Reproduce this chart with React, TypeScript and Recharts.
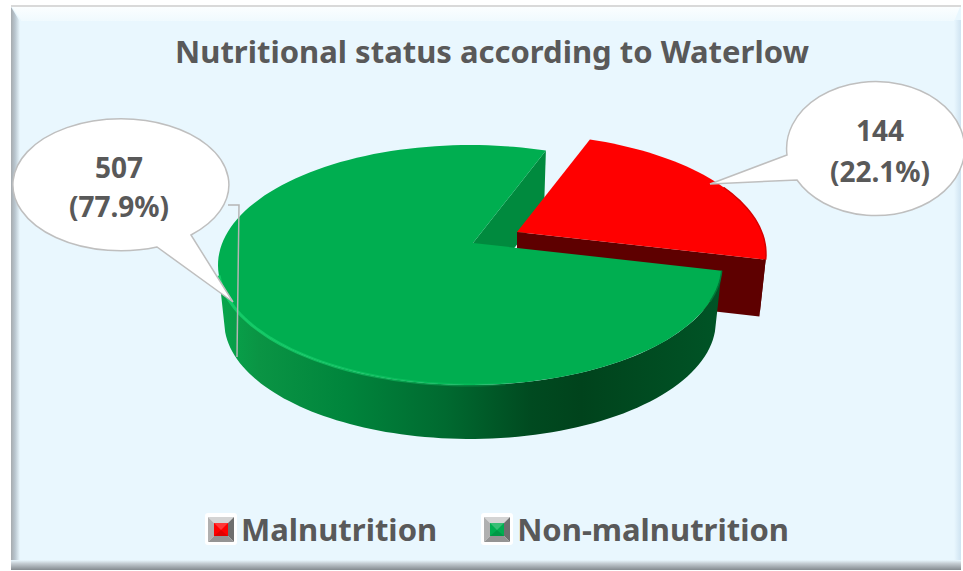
import { PieChart, Pie, Legend } from "recharts";

const labels = ["Malnutrition", "Non-malnutrition"];
const counts = [144, 507];
const colors = ["#ff0000", "#00ae50"];

const data = labels.map((name, i) => ({ name, value: counts[i], fill: colors[i] }));

const FONT = "'Noto Sans', sans-serif";
const TEXT = "#595959";
const SQUASH = 0.476; // pie seen from above: ry / rx
const DEPTH = 57;
const BOTTOM_SCALE = 0.975; // the underside looks a bit smaller
const APEX = { x: 3, y: -22 }; // tip of the wedges sits above the ellipse centre
const EXPLODE = 52;

// top = degrees clockwise from 12 o'clock, nudged for the perspective
const warp = (top: number) => top - 2.5 * (1 - Math.cos((2 * top * Math.PI) / 180));

function rim(cx: number, cy: number, r: number, top: number, low = false) {
  const a = (warp(top) * Math.PI) / 180;
  const s = low ? BOTTOM_SCALE : 1;
  return {
    x: cx + r * s * Math.sin(a),
    y: cy + (low ? DEPTH : 0) - r * SQUASH * s * Math.cos(a),
  };
}

function arc(cx: number, cy: number, r: number, from: number, to: number, low = false) {
  const pts = [];
  const steps = Math.max(2, Math.ceil(Math.abs(to - from) / 2));
  for (let i = 0; i <= steps; i++) {
    pts.push(rim(cx, cy, r, from + ((to - from) * i) / steps, low));
  }
  return pts;
}

const toPath = (pts: { x: number; y: number }[]) =>
  pts.map((p, i) => `${i ? "L" : "M"}${p.x.toFixed(1)} ${p.y.toFixed(1)}`).join(" ");

function geometry(props: any) {
  const { cx, cy, outerRadius: r, startAngle, endAngle, midAngle, index } = props;
  const m = ((midAngle ?? (startAngle + endAngle) / 2) * Math.PI) / 180;
  const ox = cx + (index === 0 ? EXPLODE * Math.cos(m) : 0);
  const oy = cy - (index === 0 ? EXPLODE * Math.sin(m) * 0.4 : 0);
  const from = 90 - startAngle;
  const to = 90 - endAngle;
  return { ox, oy, r, from, to, apex: { x: ox + APEX.x, y: oy + APEX.y } };
}

// cut face at the clockwise end of a slice
function cutFace(g: ReturnType<typeof geometry>) {
  const a = rim(g.ox, g.oy, g.r, g.to);
  const b = rim(g.ox, g.oy, g.r, g.to, true);
  return toPath([g.apex, a, b, { x: g.apex.x, y: g.apex.y + DEPTH }]) + " Z";
}

// green's cut has to stay underneath the red slice, so it gets its own pass
function BackFace(props: any) {
  if (props.index !== 1) return <g />;
  return <path d={cutFace(geometry(props))} fill="#008a3e" />;
}

function Slice(props: any) {
  const g = geometry(props);
  const red = props.index === 0;
  const wallTo = Math.min(g.to, 270);
  const wall =
    toPath([
      ...arc(g.ox, g.oy, g.r, g.from, wallTo),
      ...arc(g.ox, g.oy, g.r, wallTo, g.from, true),
    ]) + " Z";
  const top = toPath([g.apex, ...arc(g.ox, g.oy, g.r, g.from, g.to)]) + " Z";
  return (
    <g>
      {red && <path d={cutFace(g)} fill="#5e0000" />}
      {red && <path d={toPath([...arc(g.ox, g.oy, g.r, 90, g.to), ...arc(g.ox, g.oy, g.r, g.to, 90, true)]) + " Z"} fill="#5e0000" />}
      {!red && <path d={wall} fill="url(#greenWall)" />}
      <path d={top} fill={props.fill} />
      {!red && <path d={toPath(arc(g.ox, g.oy, g.r, 172, 270))} fill="none" stroke="url(#greenRim)" strokeWidth={3} />}
      {!red && <path d={toPath(arc(g.ox, g.oy, g.r, g.from, 112))} fill="none" stroke="#007a38" strokeWidth={1.5} />}
      {red && <path d={toPath(arc(g.ox, g.oy, g.r, 60, g.to))} fill="none" stroke="#d80000" strokeWidth={1.5} />}
    </g>
  );
}

const callouts = [
  { textX: 880, d: "M797 180 A89 67 0 1 0 787 155 L710 184 Z", textY: [141, 182] },
  { textX: 119, d: "M191 235 A108 66 0 1 0 157 247 L233 302 Z", textY: [178, 217] },
];

function Callout({ index, value, percent }: any) {
  const k = callouts[index];
  const textStyle = { fontFamily: FONT, fontWeight: 700, fontSize: 28, fill: TEXT };
  return (
    <g>
      <path d={k.d} fill="#ffffff" stroke="#bfbfbf" strokeWidth={1.5} />
      {index === 1 && <polyline points="228,205 239,205 237,357" fill="none" stroke="#b5b5b5" strokeWidth={1.5} />}
      <text x={k.textX} y={k.textY[0]} textAnchor="middle" style={textStyle}>
        {value}
      </text>
      <text x={k.textX} y={k.textY[1]} textAnchor="middle" style={textStyle}>
        ({(percent * 100).toFixed(1)}%)
      </text>
    </g>
  );
}

function LegendIcon({ color }: { color: string }) {
  return (
    <svg width={32} height={32} style={{ display: "block" }}>
      <rect width={32} height={32} rx={3} fill="#ffffff" />
      <polygon points="3,4 29,4 23,10 9,10" fill="#d4d4d4" />
      <polygon points="3,4 9,10 9,23 3,29" fill="#b0b0b0" />
      <polygon points="29,4 23,10 23,23 29,29" fill="#6e6e6e" />
      <polygon points="3,29 9,23 23,23 29,29" fill="#949494" />
      <rect x={9} y={10} width={14} height={13} fill={color} />
      <polygon points="9,10 23,10 16,17" fill="#ffffff" opacity={0.22} />
      <polygon points="9,23 23,23 16,17" fill="#000000" opacity={0.12} />
    </svg>
  );
}

// both Pie passes report their sectors, so keep one entry per label
function LegendItems({ payload }: any) {
  const seen = new Set((payload || []).map((p: any) => p.value));
  const items = labels.filter((l) => seen.has(l));
  return (
    <div style={{ display: "flex", alignItems: "center", gap: 44 }}>
      {items.map((name, i) => (
        <div key={name} style={{ display: "flex", alignItems: "center", gap: 4 }}>
          <LegendIcon color={colors[i]} />
          <span style={{ fontFamily: FONT, fontWeight: 700, fontSize: 31, lineHeight: "32px", color: TEXT }}>{name}</span>
        </div>
      ))}
    </div>
  );
}

export default function App() {
  return (
    <div style={{ position: "absolute", left: 0, top: 0, width: 963, height: 571, background: "#ffffff", overflow: "hidden" }}>
      {/* beveled panel behind the chart */}
      <div style={{ position: "absolute", left: 11, top: 5, width: 950, height: 565, background: "#e9f7fe" }} />
      <div style={{ position: "absolute", left: 11, top: 5, width: 950, height: 2, background: "#d9d9d9" }} />
      <div
        style={{
          position: "absolute",
          left: 12,
          top: 7,
          width: 948,
          height: 14,
          background: "linear-gradient(#fbfeff, #f0fafe)",
          clipPath: "polygon(0 0, 100% 0, 99.4% 100%, 1% 100%)",
        }}
      />
      <div
        style={{
          position: "absolute",
          left: 11,
          top: 7,
          width: 9,
          height: 558,
          background: "linear-gradient(90deg, #a6abaf, #b9c6cf 45%, #e9f7fe)",
          clipPath: "polygon(0 0, 100% 2.6%, 100% 100%, 0 100%)",
        }}
      />
      <div style={{ position: "absolute", left: 954, top: 20, width: 7, height: 546, background: "linear-gradient(90deg, #e9f7fe, #cfe3f1)" }} />
      <div style={{ position: "absolute", left: 11, top: 560, width: 950, height: 10, background: "linear-gradient(#e9f7fe, #c4ccd2 35%, #858b90)" }} />

      <div style={{ position: "absolute", left: 0, top: 0 }}>
        <PieChart width={963} height={571} margin={{ top: 0, right: 0, bottom: 0, left: 0 }}>
          <defs>
            <linearGradient id="greenWall" x1="0" y1="0" x2="1" y2="0">
              <stop offset="0" stopColor="#07a64c" />
              <stop offset="0.08" stopColor="#0a9444" />
              <stop offset="0.25" stopColor="#00853c" />
              <stop offset="0.45" stopColor="#006a30" />
              <stop offset="0.62" stopColor="#004a20" />
              <stop offset="0.72" stopColor="#00431c" />
              <stop offset="1" stopColor="#005426" />
            </linearGradient>
            <linearGradient id="greenRim" x1="0" y1="0" x2="1" y2="0">
              <stop offset="0" stopColor="#14cc68" />
              <stop offset="1" stopColor="#14cc68" stopOpacity={0.2} />
            </linearGradient>
          </defs>
          <text x={492} y={63} textAnchor="middle" style={{ fontFamily: FONT, fontWeight: 700, fontSize: 31, fill: TEXT }}>
            Nutritional status according to Waterlow
          </text>
          <Pie
            data={data}
            dataKey="value"
            nameKey="name"
            cx={470}
            cy={265}
            outerRadius={252}
            startAngle={72}
            endAngle={-288}
            stroke="none"
            legendType="none"
            shape={BackFace}
            isAnimationActive={false}
          />
          <Pie
            data={data}
            dataKey="value"
            nameKey="name"
            cx={470}
            cy={265}
            outerRadius={252}
            startAngle={72}
            endAngle={-288}
            stroke="none"
            shape={Slice}
            label={Callout}
            labelLine={false}
            isAnimationActive={false}
          />
          <Legend content={LegendItems} wrapperStyle={{ left: 205, top: 513, width: 640, bottom: "auto" }} />
        </PieChart>
      </div>
    </div>
  );
}
